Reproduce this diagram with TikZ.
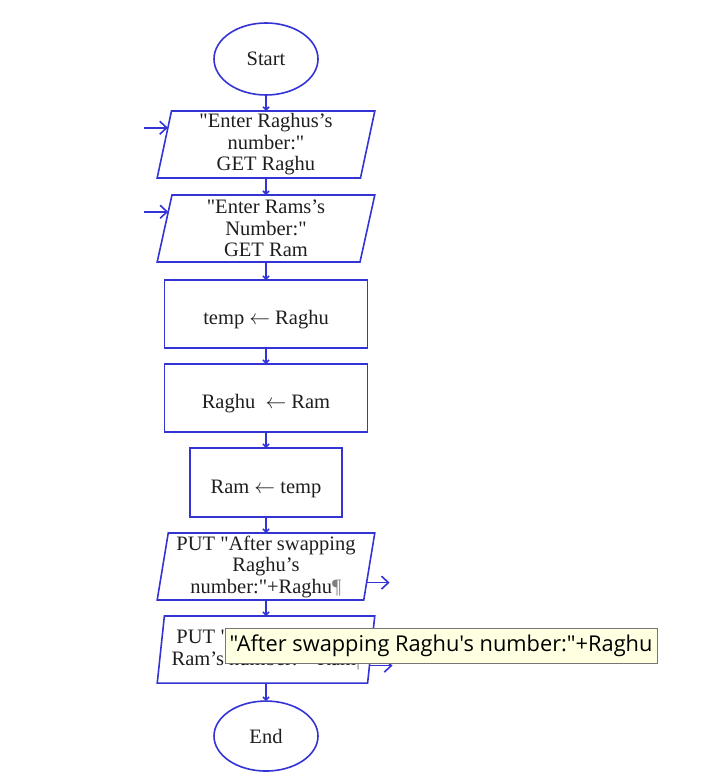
\documentclass[tikz,border=0pt]{standalone}
\usepackage{fontspec}
\setmainfont[Ligatures=TeXOff]{Liberation Serif}
\newfontfamily\tipfont[Ligatures=TeXOff]{Open Sans}
\usetikzlibrary{positioning,shapes.geometric,arrows.meta,calc}
\definecolor{FlowBlue}{HTML}{3434D6}
\definecolor{FlowText}{HTML}{1E1E1E}
\definecolor{TipYellow}{HTML}{FFFFE1}
\definecolor{TipGray}{HTML}{767676}

\begin{document}
\begin{tikzpicture}[x=1pt, y=-1pt,
                    every node/.style={draw=FlowBlue, line width=1.6pt, outer sep=0pt, align=center,
                                       text=FlowText, font=\fontsize{20.5}{21.5}\selectfont},
                    terminal/.style={ellipse, minimum width=104pt, minimum height=72pt, inner sep=0pt},
                    io/.style={trapezium, trapezium left angle=80.7, trapezium right angle=99.3,
                               trapezium stretches=true, minimum width=218pt, minimum height=67pt,
                               inner sep=0pt},
                    process/.style={rectangle, minimum width=203pt, minimum height=68pt,
                                    text height=25pt, text depth=4pt},
                    flow/.style={draw=FlowBlue, line width=1.6pt, -{Straight Barb[length=3pt,width=6pt]}},
                    port/.style={draw=FlowBlue, line width=1.6pt, -{Straight Barb[length=7pt,width=13pt]}},
                    node distance=16pt]
\useasboundingbox (0,0) rectangle (706,775);
\node[terminal] (start) at (266,59) {Start};
\node[io, below=16pt of start] (raghuin) {"Enter Raghus’s\\number:"\\GET Raghu};
\node[io, below=17pt of raghuin] (ramin) {"Enter Rams’s\\Number:"\\GET Ram};
\node[process, below=18pt of ramin] (savetemp) {temp $\leftarrow$ Raghu};
\node[process, below=16pt of savetemp] (setraghu) {Raghu\ \ $\leftarrow$ Ram};
\node[process, below=16pt of setraghu, minimum width=152pt, minimum height=69pt] (setram) {Ram $\leftarrow$ temp};
\node[io, below=16pt of setram] (raghuout) {PUT "After swapping\\Raghu’s\\number:"+Raghu{\color{gray}¶}};
\node[io, below=16pt of raghuout] (ramout) {PUT "After swapping\\Ram’s number:"+Ram{\color{gray}|}};
\node[terminal, below=18pt of ramout, minimum height=70pt] (stop) {End};
\draw[flow] (start) -- (raghuin);
\draw[flow] (raghuin) -- (ramin);
\draw[flow] (ramin) -- (savetemp);
\draw[flow] (savetemp) -- (setraghu);
\draw[flow] (setraghu) -- (setram);
\draw[flow] (setram) -- (raghuout);
\draw[flow] (raghuout) -- (ramout);
\draw[flow] (ramout) -- (stop);
% input and output ports
\coordinate (raghuinedge) at ($(raghuin.top left corner)!0.25!(raghuin.bottom left corner)$);
\coordinate (raghuinsrc) at ([xshift=-24pt]raghuinedge);
\coordinate (raminedge) at ($(ramin.top left corner)!0.25!(ramin.bottom left corner)$);
\coordinate (raminsrc) at ([xshift=-24pt]raminedge);
\coordinate (raghuoutedge) at ($(raghuout.top right corner)!0.74!(raghuout.bottom right corner)$);
\coordinate (raghuoutdst) at ([xshift=23pt]raghuoutedge);
\coordinate (ramoutedge) at ($(ramout.top right corner)!0.74!(ramout.bottom right corner)$);
\coordinate (ramoutdst) at ([xshift=23pt]ramoutedge);
\draw[port] (raghuinsrc) -- (raghuinedge);
\draw[port] (raminsrc) -- (raminedge);
\draw[port] (raghuoutedge) -- (raghuoutdst);
\draw[port] (ramoutedge) -- (ramoutdst);
% hover tip
\node[draw=TipGray, line width=0.6pt, fill=TipYellow, text=black, inner sep=2pt,
      font=\tipfont\fontsize{21.8}{23}\selectfont, minimum width=432pt, minimum height=35pt]
      (tip) at (441,645.5) {"After swapping Raghu's number:"+Raghu};
\end{tikzpicture}
\end{document}
